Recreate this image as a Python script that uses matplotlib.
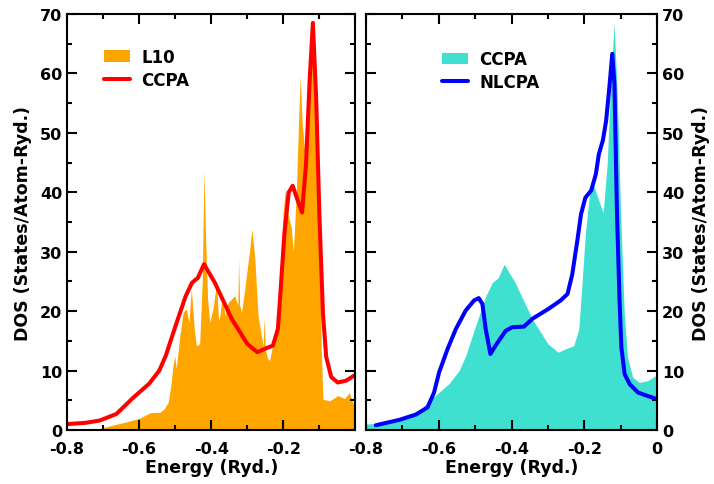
import matplotlib
matplotlib.use("Agg")
import matplotlib.pyplot as plt
from matplotlib.ticker import MultipleLocator

plt.rcParams["font.family"] = ["DejaVu Sans"]
plt.rcParams["font.weight"] = "bold"
plt.rcParams["axes.unicode_minus"] = False

# L10 ordered-alloy DOS (spiky)
l10_e = [-0.800, -0.727, -0.700, -0.681, -0.640, -0.598, -0.570, -0.542, -0.530, -0.519,
         -0.512, -0.506, -0.501, -0.497, -0.487, -0.478, -0.469, -0.462, -0.455, -0.447,
         -0.441, -0.432, -0.425, -0.420, -0.416, -0.410, -0.404, -0.395, -0.385, -0.380,
         -0.376, -0.369, -0.362, -0.353, -0.344, -0.335, -0.326, -0.324, -0.321, -0.316,
         -0.307, -0.293, -0.287, -0.279, -0.270, -0.261, -0.256, -0.253, -0.250, -0.243,
         -0.238, -0.224, -0.215, -0.210, -0.201, -0.194, -0.187, -0.178, -0.172, -0.164,
         -0.157, -0.153, -0.148, -0.141, -0.136, -0.130, -0.122, -0.116, -0.109, -0.101,
         -0.095, -0.090, -0.072, -0.049, -0.030, -0.017, -0.009, 0.000]
l10_dos = [0.0, 0.0, 0.4, 0.7, 1.3, 2.0, 2.9, 3.0, 3.6, 4.7,
           7.5, 10.8, 12.5, 10.3, 15.9, 19.8, 20.4, 18.1, 23.7, 17.0,
           14.2, 14.5, 24.8, 43.9, 33.3, 22.0, 18.1, 20.4, 24.8, 18.5,
           19.2, 23.0, 19.2, 21.5, 22.0, 22.6, 21.0, 28.8, 21.0, 19.8,
           23.7, 30.5, 33.8, 28.8, 19.2, 15.9, 14.2, 19.0, 13.5, 12.0,
           11.7, 16.0, 20.7, 24.3, 36.3, 40.8, 36.3, 34.1, 30.0, 40.0,
           53.2, 59.6, 52.0, 47.0, 51.5, 55.4, 63.3, 69.4, 53.2, 38.6,
           13.9, 5.2, 4.9, 5.8, 5.3, 6.3, 4.9, 3.5]

# CCPA DOS (red line on the left, filled on the right)
ccpa_e = [-0.800, -0.750, -0.709, -0.663, -0.617, -0.572, -0.544, -0.526, -0.499, -0.471,
          -0.453, -0.437, -0.420, -0.390, -0.343, -0.300, -0.272, -0.250, -0.229, -0.215,
          -0.207, -0.197, -0.185, -0.174, -0.160, -0.148, -0.137, -0.127, -0.118, -0.109,
          -0.100, -0.090, -0.081, -0.067, -0.049, -0.026, 0.000]
ccpa_dos = [1.0, 1.2, 1.6, 2.7, 5.4, 7.8, 10.0, 12.5, 17.5, 22.5,
            24.8, 25.6, 27.9, 24.8, 18.7, 14.5, 13.1, 13.7, 14.2, 17.0,
            24.0, 33.0, 40.0, 41.1, 38.6, 36.6, 44.8, 58.8, 68.5, 56.0,
            36.3, 19.5, 12.3, 8.9, 8.0, 8.3, 9.3]

# NLCPA DOS
nlcpa_e = [-0.773, -0.709, -0.663, -0.631, -0.613, -0.599, -0.576, -0.553, -0.526, -0.503,
           -0.490, -0.480, -0.471, -0.458, -0.444, -0.416, -0.398, -0.366, -0.343, -0.298,
           -0.265, -0.246, -0.233, -0.219, -0.209, -0.197, -0.181, -0.168, -0.160, -0.149,
           -0.140, -0.131, -0.123, -0.117, -0.110, -0.103, -0.098, -0.089, -0.075, -0.052,
           -0.029, 0.000]
nlcpa_dos = [0.8, 1.7, 2.6, 3.8, 6.3, 9.7, 13.6, 17.0, 20.1, 21.8,
             22.2, 21.2, 17.0, 12.8, 14.2, 16.7, 17.3, 17.4, 18.7, 20.4,
             21.8, 22.9, 26.2, 31.9, 36.3, 39.1, 40.3, 43.1, 46.4, 48.7,
             52.0, 57.7, 63.3, 58.2, 36.3, 21.8, 13.9, 9.4, 7.7, 6.3,
             5.8, 5.2]

xticks = [-0.8, -0.6, -0.4, -0.2, 0.0]
left_xticklabels = ["-0.8", "-0.6", "-0.4", "-0.2", ""]
right_xticklabels = ["-0.8", "-0.6", "-0.4", "-0.2", "0"]
yticks = [0, 10, 20, 30, 40, 50, 60, 70]

TICK_FS = 11.5
LABEL_FS = 12.5
LEG_FS = 12

fig = plt.figure(figsize=(7.14, 4.85), dpi=100)
ax1 = fig.add_axes([0.0938, 0.1113, 0.404, 0.8577])
ax2 = fig.add_axes([0.5126, 0.1113, 0.4076, 0.8577])

line_kw = dict(lw=2.9, solid_joinstyle="round", solid_capstyle="round")
ax1.fill_between(l10_e, 0, l10_dos, color="#FFA500", lw=0, label="L10")
ax1.plot(ccpa_e, ccpa_dos, color="#FF0000", label="CCPA", **line_kw)

ax2.fill_between(ccpa_e, 0, ccpa_dos, color="#40E0D0", lw=0, label="CCPA")
ax2.plot(nlcpa_e, nlcpa_dos, color="#0000FF", label="NLCPA", **line_kw)

for ax, labels in [(ax1, left_xticklabels), (ax2, right_xticklabels)]:
    ax.set_xlim(-0.8, 0.0)
    ax.set_ylim(0, 70)
    ax.set_xticks(xticks)
    ax.set_xticklabels(labels)
    ax.set_yticks(yticks)
    ax.xaxis.set_minor_locator(MultipleLocator(0.1))
    ax.yaxis.set_minor_locator(MultipleLocator(5))
    ax.tick_params(which="both", direction="in", top=True, bottom=True, left=True, right=True,
                   width=1.5, labelsize=TICK_FS)
    ax.tick_params(which="major", length=7)
    ax.tick_params(axis="x", which="major", pad=8)
    ax.tick_params(axis="y", which="major", pad=3.5)
    ax.tick_params(which="minor", length=3.8)
    for s in ax.spines.values():
        s.set_linewidth(1.5)
    ax.set_xlabel("Energy (Ryd.)", fontsize=LABEL_FS, fontweight="bold", labelpad=1.5)
    for t in ax.get_xticklabels() + ax.get_yticklabels():
        t.set_fontweight("bold")

ax1.set_ylabel("DOS (States/Atom-Ryd.)", fontsize=LABEL_FS, fontweight="bold", labelpad=6)

ax2.yaxis.tick_right()
ax2.tick_params(which="both", left=True, right=True)
ax2.yaxis.set_label_position("right")
ax2.set_ylabel("DOS (States/Atom-Ryd.)", fontsize=LABEL_FS, fontweight="bold",
               rotation=90, labelpad=6)

leg_kw = dict(frameon=False, loc="upper left", handlelength=1.55, handleheight=0.7,
              handletextpad=0.7, labelspacing=0.3, borderpad=0, borderaxespad=0,
              prop={"weight": "bold", "size": LEG_FS})
ax1.legend(bbox_to_anchor=(0.128, 0.918), **leg_kw)
ax2.legend(bbox_to_anchor=(0.261, 0.913), **leg_kw)

fig.savefig("out.png", dpi=100)
